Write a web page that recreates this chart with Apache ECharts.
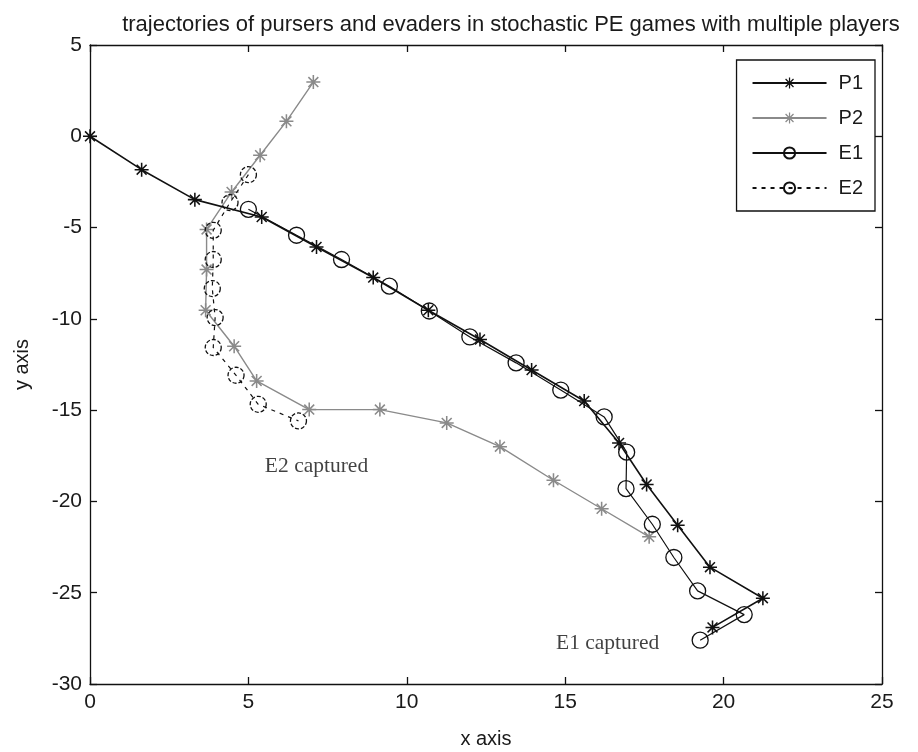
<!DOCTYPE html>
<html>
<head>
<meta charset="utf-8">
<script src="https://cdn.jsdelivr.net/npm/echarts@6/dist/echarts.min.js"></script>
<style>html,body{margin:0;padding:0;background:#fff}#c{width:918px;height:752px}</style>
</head>
<body>
<div id="c"></div>
<script>
const titleText = 'trajectories of pursers and evaders in stochastic PE games with multiple players';
const xTicks = [0, 5, 10, 15, 20, 25];
const yTicks = [5, 0, -5, -10, -15, -20, -25, -30];

const p1X = [0, 1.63, 3.31, 5.42, 7.15, 8.94, 10.68, 12.31, 13.94, 15.6, 16.7, 17.57, 18.55, 19.57, 21.24, 19.65];
const p1Y = [0, -1.83, -3.47, -4.42, -6.06, -7.74, -9.53, -11.13, -12.8, -14.5, -16.8, -19.07, -21.3, -23.6, -25.3, -26.9];

const p2X = [7.05, 6.2, 5.37, 4.47, 3.68, 3.68, 3.65, 4.55, 5.26, 6.92, 9.15, 11.26, 12.94, 14.63, 16.15, 17.65];
const p2Y = [2.97, 0.82, -1.04, -3.05, -5.1, -7.3, -9.53, -11.5, -13.4, -14.97, -14.97, -15.7, -17.0, -18.84, -20.4, -21.94];

const e1X = [5.0, 6.52, 7.94, 9.45, 10.71, 11.99, 13.45, 14.86, 16.23, 16.94, 16.92, 17.75, 18.43, 19.18, 20.65, 19.26];
const e1Y = [-4.0, -5.42, -6.75, -8.21, -9.57, -10.99, -12.41, -13.9, -15.37, -17.3, -19.3, -21.25, -23.07, -24.9, -26.2, -27.6];

const e2X = [5.0, 4.42, 3.89, 3.89, 3.86, 3.95, 3.89, 4.61, 5.31, 6.58];
const e2Y = [-2.1, -3.63, -5.15, -6.75, -8.34, -9.93, -11.57, -13.09, -14.68, -15.59];

const notes = [
  { text: 'E2 captured', x: 5.52, y: -18.1 },
  { text: 'E1 captured', x: 14.71, y: -27.75 }
];

const zip = (xs, ys) => xs.map((x, i) => [x, ys[i]]);

// asterisk symbol built from four thin bars (same winding)
const star = 'path://M-0.55,-5L0.55,-5L0.55,5L-0.55,5Z' +
  'M-5,-0.55L5,-0.55L5,0.55L-5,0.55Z' +
  'M-3.93,-3.15L-3.15,-3.93L3.93,3.15L3.15,3.93Z' +
  'M-3.15,3.93L-3.93,3.15L3.15,-3.93L3.93,-3.15Z';

const chart = echarts.init(document.getElementById('c'));
const fontSans = 'Liberation Sans, Arial, sans-serif';
const axisCommon = {
  type: 'value',
  splitLine: { show: false },
  axisLine: { show: true, onZero: false, lineStyle: { color: '#111', width: 1.3 } },
  axisTick: { show: true, inside: true, length: 7, lineStyle: { color: '#111', width: 1.3 } }
};

chart.setOption({
  animation: false,
  backgroundColor: '#fff',
  title: {
    text: titleText,
    left: 506, top: 9, textAlign: 'center',
    textStyle: { fontFamily: fontSans, fontWeight: 'normal', fontSize: 22, color: '#1a1a1a' }
  },
  grid: { left: 90, right: 36, top: 45, bottom: 68, outerBoundsMode: 'none', containLabel: false },
  legend: {
    orient: 'vertical',
    right: 43, top: 60,
    backgroundColor: '#fff',
    borderColor: '#111', borderWidth: 1.3,
    padding: [13, 12, 13, 15],
    itemWidth: 74, itemHeight: 14, itemGap: 15,
    textStyle: { fontFamily: fontSans, fontSize: 20, color: '#1a1a1a', lineHeight: 20, padding: [0, 0, 0, 7] },
    data: ['P1', 'P2', 'E1', 'E2']
  },
  xAxis: [
    Object.assign({}, axisCommon, {
      position: 'bottom', min: xTicks[0], max: xTicks[xTicks.length - 1], interval: 5,
      name: 'x axis', nameLocation: 'middle', nameGap: 45,
      nameTextStyle: { fontFamily: fontSans, fontSize: 20, color: '#1a1a1a' },
      axisLabel: { fontFamily: fontSans, fontSize: 21, color: '#1a1a1a', margin: 8 }
    }),
    Object.assign({}, axisCommon, {
      position: 'top', min: xTicks[0], max: xTicks[xTicks.length - 1], interval: 5,
      axisLabel: { show: false }
    })
  ],
  yAxis: [
    Object.assign({}, axisCommon, {
      position: 'left', min: yTicks[yTicks.length - 1], max: yTicks[0], interval: 5,
      name: 'y axis', nameLocation: 'middle', nameGap: 58, nameRotate: 90,
      nameTextStyle: { fontFamily: fontSans, fontSize: 20, color: '#1a1a1a' },
      axisLabel: { fontFamily: fontSans, fontSize: 21, color: '#1a1a1a', margin: 8 }
    }),
    Object.assign({}, axisCommon, {
      position: 'right', min: yTicks[yTicks.length - 1], max: yTicks[0], interval: 5,
      axisLabel: { show: false }
    })
  ],
  series: [
    {
      name: 'P1', type: 'line', data: zip(p1X, p1Y),
      symbol: star, symbolSize: 14,
      lineStyle: { color: '#111', width: 1.6 },
      itemStyle: { color: '#111' }, z: 3
    },
    {
      name: 'P2', type: 'line', data: zip(p2X, p2Y),
      symbol: star, symbolSize: 14,
      lineStyle: { color: '#8a8a8a', width: 1.4 },
      itemStyle: { color: '#8a8a8a' }, z: 2
    },
    {
      name: 'E1', type: 'line', data: zip(e1X, e1Y),
      symbol: 'circle', symbolSize: 16,
      lineStyle: { color: '#111', width: 1.2 },
      itemStyle: { color: 'rgba(0,0,0,0)', borderColor: '#111', borderWidth: 1.3 }, z: 4
    },
    {
      name: 'E2', type: 'line', data: zip(e2X, e2Y),
      symbol: 'circle', symbolSize: 16,
      lineStyle: { color: '#111', width: 1.2, type: [4, 5] },
      itemStyle: { color: 'rgba(0,0,0,0)', borderColor: '#111', borderWidth: 1.3, borderType: [4, 2] }, z: 4
    },
    {
      name: 'notes', type: 'scatter', symbolSize: 0, silent: true,
      data: notes.map(n => ({ value: [n.x, n.y], label: { formatter: n.text } })),
      label: {
        show: true, position: 'right', distance: 0,
        fontFamily: 'Liberation Serif, Times New Roman, serif', fontSize: 21.5, color: '#111'
      }
    }
  ]
});
</script>
</body>
</html>
